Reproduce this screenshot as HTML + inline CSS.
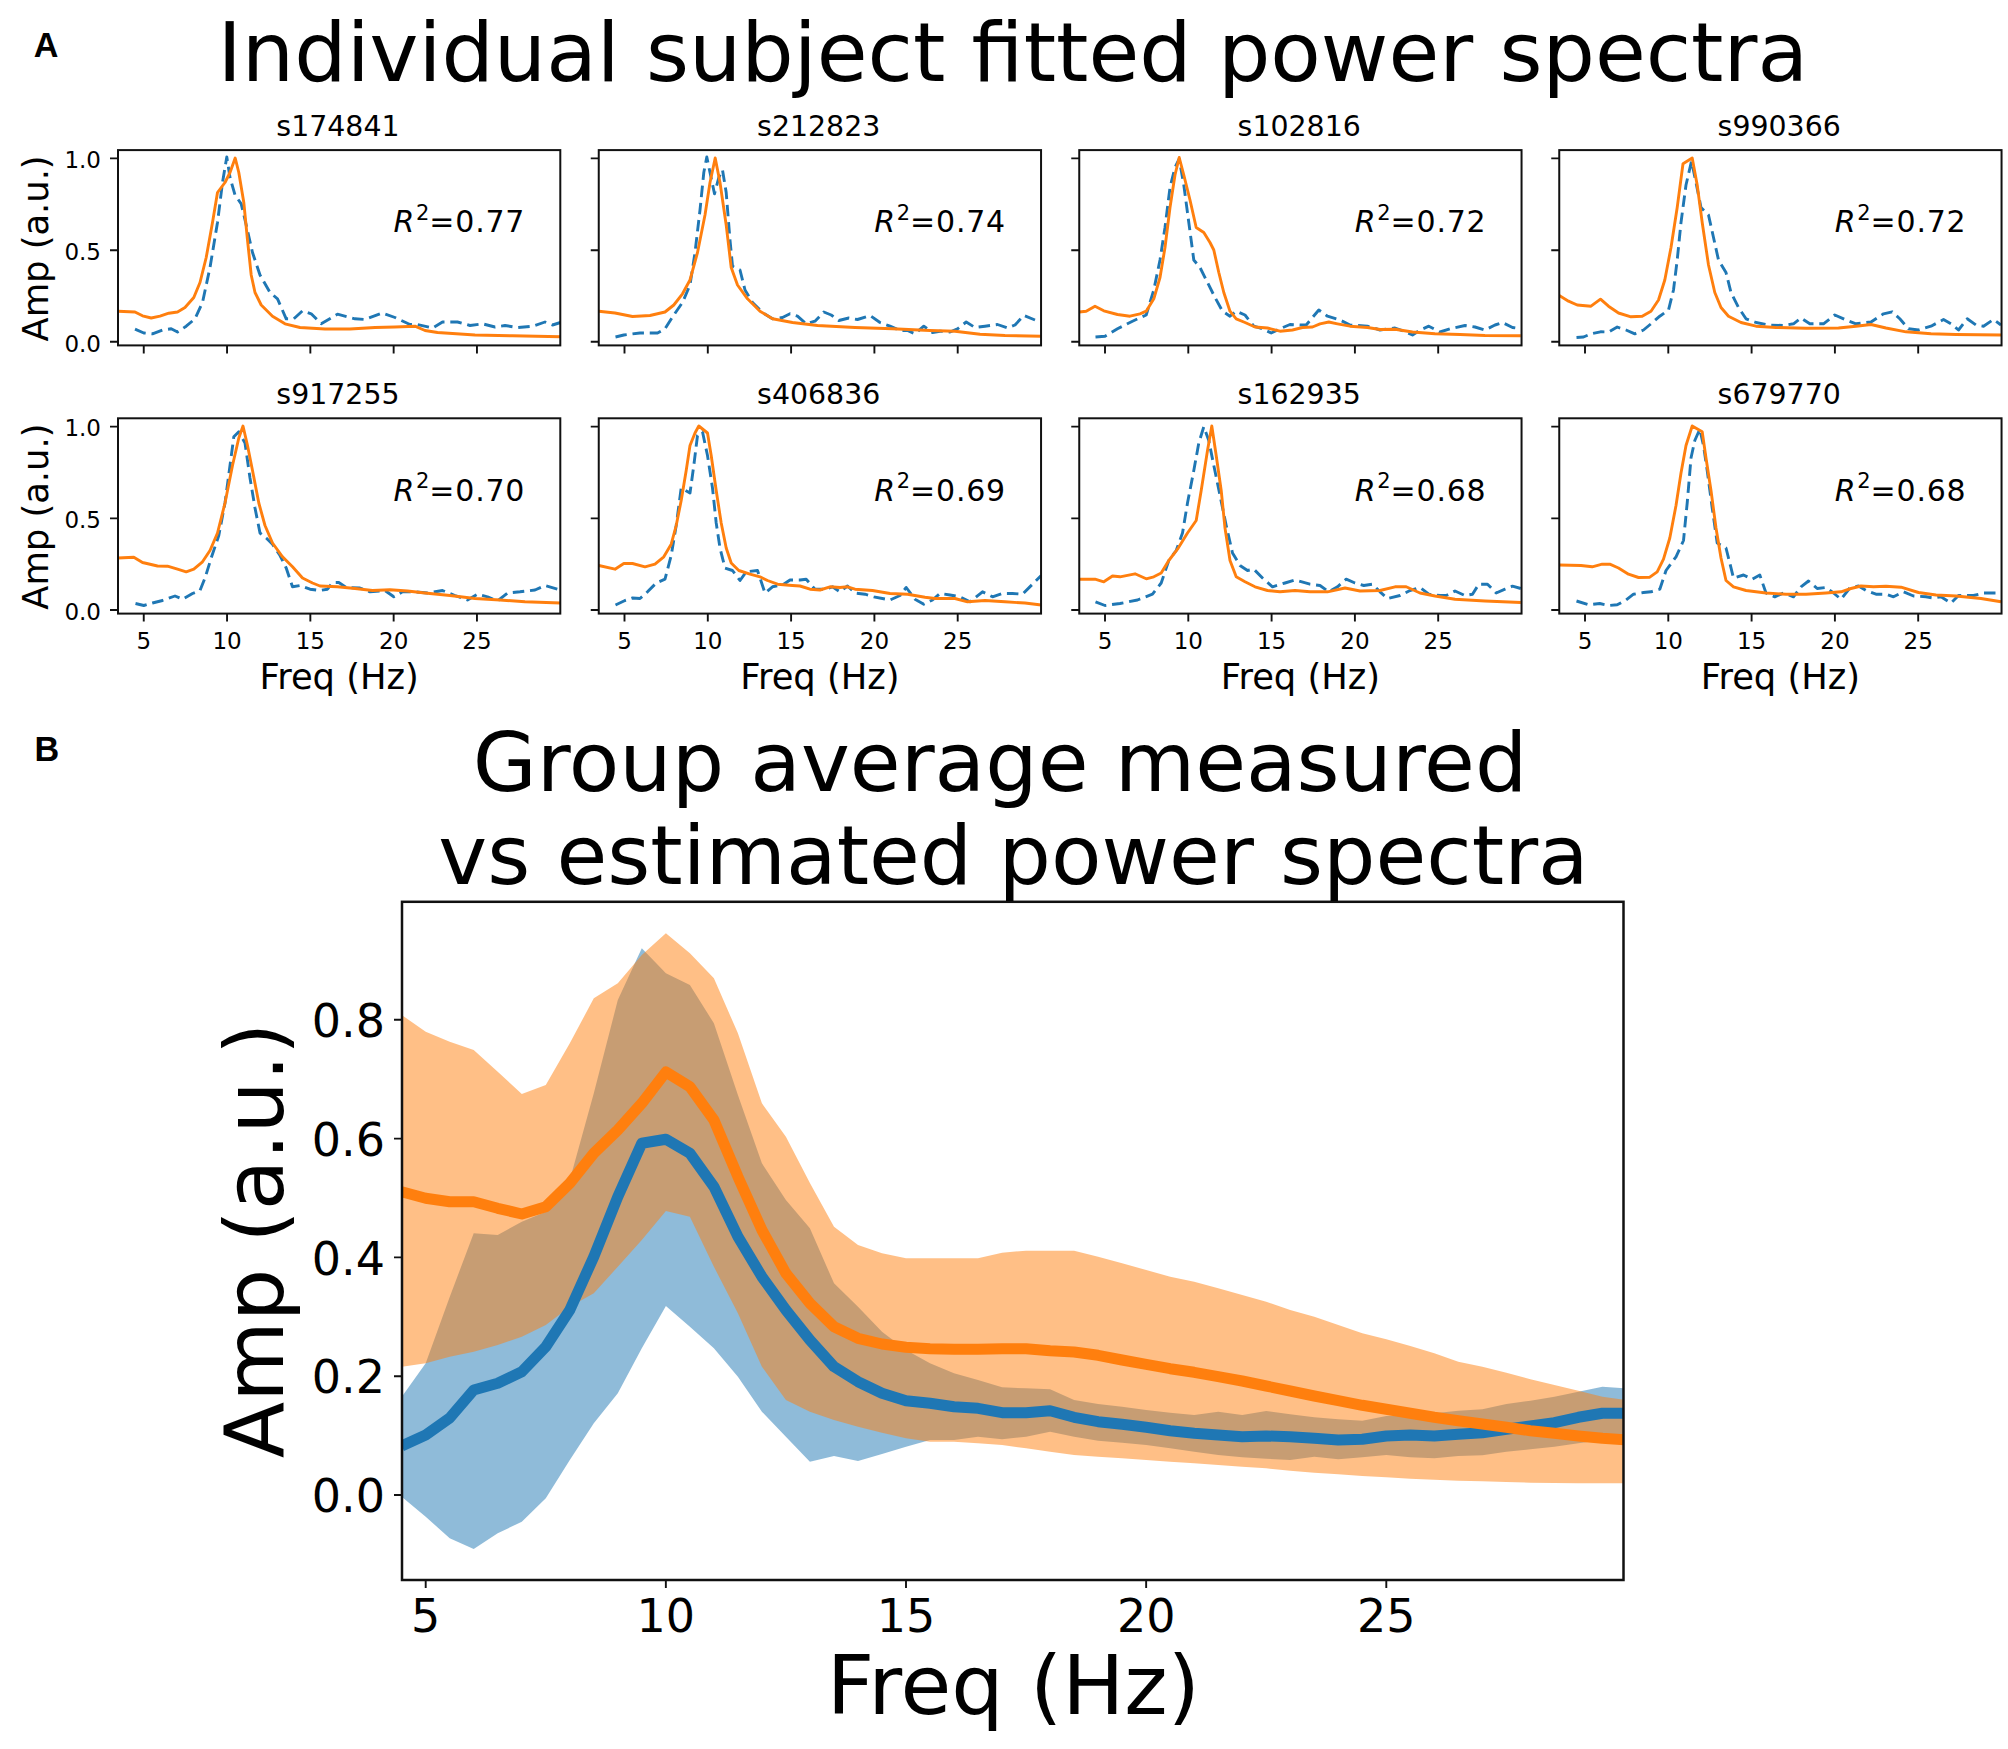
<!DOCTYPE html>
<html lang="en"><head><meta charset="utf-8"><title>Fitted power spectra</title>
<style>
html,body{margin:0;padding:0;background:#fff;}
body{width:2008px;height:1749px;overflow:hidden;}
svg{display:block;}
text{font-family:'DejaVu Sans', 'Liberation Sans', sans-serif;fill:#000000;}
.lab{font-family:"Liberation Sans",Arial,sans-serif;font-weight:bold;fill:#000;}
.it{font-family:"DejaVu Sans","Liberation Sans",sans-serif;font-style:oblique;}
.ax{fill:none;stroke:#111111;stroke-width:2.0;}
.tk{stroke:#111111;stroke-width:1.9;fill:none;}
.o{fill:none;stroke:#ff7f0e;stroke-width:2.9;stroke-linejoin:round;stroke-linecap:butt;}
.b{fill:none;stroke:#1f77b4;stroke-width:2.9;stroke-linejoin:round;stroke-dasharray:11.5 5.8;}
</style></head><body>
<svg width="2008" height="1749" viewBox="0 0 2008 1749">
<rect x="0" y="0" width="2008" height="1749" fill="#ffffff"/>
<text class="lab" x="33.8" y="57.1" font-size="34.2">A</text>
<text class="lab" x="34.6" y="761" font-size="34.2">B</text>
<text x="1012.8" y="81.3" font-size="82.6" text-anchor="middle">Individual subject fitted power spectra</text>
<g>
<clipPath id="c0"><rect x="118.00" y="150.10" width="442.30" height="195.30"/></clipPath>
<g clip-path="url(#c0)">
<polyline class="b" points="135.0,329.2 143.8,333.0 152.5,333.8 162.5,330.0 171.2,328.8 177.5,332.0 186.2,326.2 195.0,318.8 202.5,302.5 210.0,267.5 217.5,222.5 222.5,182.5 226.8,157.0 230.0,177.5 235.0,195.0 241.2,203.8 246.2,225.0 252.5,252.5 260.0,275.0 270.0,292.5 277.5,298.8 286.2,318.8 293.8,318.8 302.5,310.8 311.2,313.8 321.2,323.8 337.5,314.2 355.0,318.8 365.0,319.5 382.5,313.0 395.0,317.5 410.0,324.5 417.5,324.5 432.5,328.0 442.5,322.0 457.5,322.0 470.0,325.5 482.5,323.8 495.0,327.0 505.0,325.5 517.5,327.5 532.5,326.2 545.0,322.0 552.5,325.0 560.5,322.5"/>
<polyline class="o" points="118.0,311.2 135.0,312.0 142.5,315.8 151.2,318.0 160.0,316.2 168.8,313.2 177.5,312.0 185.0,307.5 193.8,297.5 200.0,282.5 206.2,257.5 212.5,222.5 217.5,192.5 225.0,182.5 230.0,172.5 235.2,158.0 238.8,172.5 243.8,202.5 247.5,240.0 251.2,275.0 255.0,292.5 261.2,305.0 272.5,316.2 285.0,323.8 300.0,327.5 325.0,329.0 350.0,329.0 375.0,327.5 395.0,327.0 415.0,326.2 425.0,330.5 437.5,332.5 475.0,335.0 512.5,335.8 560.5,336.8"/>
</g>
<rect class="ax" x="118.00" y="150.10" width="442.30" height="195.30"/>
<path class="tk" d="M110.00 158.40H118.00M110.00 250.20H118.00M110.00 341.80H118.00M143.75 345.40V353.40M227.05 345.40V353.40M310.35 345.40V353.40M393.65 345.40V353.40M476.95 345.40V353.40"/>
<text x="337.95" y="135.70" font-size="28.4" text-anchor="middle">s174841</text>
<text x="393.60" y="232.30" font-size="30"><tspan class="it">R</tspan><tspan dx="1.5" dy="-12.3" font-size="21">2</tspan><tspan dy="12.3" dx="0.0" letter-spacing="0.8">=0.77</tspan></text>
<text x="101.00" y="168.10" font-size="23" text-anchor="end">1.0</text>
<text x="101.00" y="259.90" font-size="23" text-anchor="end">0.5</text>
<text x="101.00" y="351.50" font-size="23" text-anchor="end">0.0</text>
<text transform="translate(48.00 248.45) rotate(-90)" font-size="35.3" text-anchor="middle">Amp (a.u.)</text>
</g>
<g>
<clipPath id="c1"><rect x="598.75" y="150.10" width="442.30" height="195.30"/></clipPath>
<g clip-path="url(#c1)">
<polyline class="b" points="615.5,337.0 623.8,335.0 640.0,333.0 657.5,333.0 665.0,328.8 673.8,315.0 682.5,302.5 690.0,285.0 695.0,252.5 700.0,210.0 703.8,172.5 706.8,157.0 710.0,172.5 714.5,193.8 718.8,177.5 722.5,170.0 726.2,192.5 730.0,240.0 732.5,266.2 740.0,270.0 745.0,290.0 752.5,302.5 762.5,312.5 772.5,318.8 782.5,317.5 790.0,313.8 797.5,316.2 806.2,323.8 815.0,321.2 823.8,312.0 831.2,315.0 838.8,320.5 848.8,318.0 857.5,319.5 870.0,315.5 880.0,322.5 890.0,326.2 900.0,330.5 907.5,330.5 915.0,333.8 923.8,326.2 932.5,332.5 940.0,331.2 950.0,332.0 957.5,328.8 966.2,322.0 975.0,327.5 985.0,326.2 997.5,324.5 1007.5,328.0 1015.0,325.0 1023.8,315.5 1035.0,320.0"/>
<polyline class="o" points="598.8,311.2 615.0,313.0 632.5,316.5 650.0,315.5 665.0,312.0 673.8,305.0 682.5,293.8 690.0,280.0 697.5,252.5 705.0,215.0 710.0,182.5 715.2,158.0 720.0,182.5 726.2,225.0 731.2,267.5 737.5,285.0 747.5,298.8 760.0,311.2 772.5,318.8 792.5,322.5 817.5,325.5 855.0,327.5 892.5,328.8 930.0,330.5 955.0,331.2 980.0,334.2 1005.0,335.5 1041.2,336.2"/>
</g>
<rect class="ax" x="598.75" y="150.10" width="442.30" height="195.30"/>
<path class="tk" d="M590.75 158.40H598.75M590.75 250.20H598.75M590.75 341.80H598.75M624.50 345.40V353.40M707.80 345.40V353.40M791.10 345.40V353.40M874.40 345.40V353.40M957.70 345.40V353.40"/>
<text x="818.70" y="135.70" font-size="28.4" text-anchor="middle">s212823</text>
<text x="874.35" y="232.30" font-size="30"><tspan class="it">R</tspan><tspan dx="1.5" dy="-12.3" font-size="21">2</tspan><tspan dy="12.3" dx="0.0" letter-spacing="0.8">=0.74</tspan></text>
</g>
<g>
<clipPath id="c2"><rect x="1079.25" y="150.10" width="442.30" height="195.30"/></clipPath>
<g clip-path="url(#c2)">
<polyline class="b" points="1095.5,337.0 1105.0,336.2 1117.5,328.8 1132.5,321.2 1146.2,315.0 1153.8,290.0 1160.0,260.0 1165.0,227.5 1170.0,187.5 1175.0,167.5 1179.2,158.8 1183.8,185.0 1188.8,222.5 1193.8,260.0 1200.0,267.5 1207.5,282.5 1215.0,297.5 1222.5,311.2 1230.0,316.2 1236.2,311.2 1245.0,315.0 1253.8,326.2 1262.5,328.8 1271.2,333.0 1280.0,328.8 1290.0,324.5 1300.0,325.0 1306.2,325.0 1318.8,310.0 1327.5,316.2 1340.0,320.0 1350.0,325.0 1367.5,326.2 1380.0,330.0 1395.0,328.0 1403.8,331.2 1412.5,335.0 1420.0,330.0 1428.8,326.2 1440.0,332.0 1450.0,328.8 1465.0,325.5 1475.0,327.0 1485.0,330.0 1495.0,325.0 1502.5,322.5 1512.5,327.5 1520.8,328.8"/>
<polyline class="o" points="1079.2,312.0 1086.2,311.2 1095.0,306.2 1103.8,310.8 1117.5,314.5 1130.0,316.2 1140.0,313.8 1146.2,311.2 1153.8,298.8 1160.0,277.5 1165.0,247.5 1170.0,207.5 1175.0,175.0 1179.2,157.5 1183.8,175.0 1190.0,200.0 1196.2,227.5 1203.8,232.5 1210.0,242.5 1213.8,250.0 1218.8,272.5 1223.8,292.5 1230.0,311.2 1236.2,318.8 1245.0,322.5 1255.0,327.0 1267.5,328.0 1280.0,331.2 1292.5,330.0 1302.5,327.5 1312.5,327.0 1320.0,323.8 1328.8,322.0 1337.5,323.8 1350.0,326.2 1367.5,327.5 1380.0,329.5 1395.0,329.2 1412.5,332.0 1435.0,333.8 1460.0,334.5 1485.0,335.5 1520.8,335.8"/>
</g>
<rect class="ax" x="1079.25" y="150.10" width="442.30" height="195.30"/>
<path class="tk" d="M1071.25 158.40H1079.25M1071.25 250.20H1079.25M1071.25 341.80H1079.25M1105.00 345.40V353.40M1188.30 345.40V353.40M1271.60 345.40V353.40M1354.90 345.40V353.40M1438.20 345.40V353.40"/>
<text x="1299.20" y="135.70" font-size="28.4" text-anchor="middle">s102816</text>
<text x="1354.85" y="232.30" font-size="30"><tspan class="it">R</tspan><tspan dx="1.5" dy="-12.3" font-size="21">2</tspan><tspan dy="12.3" dx="0.0" letter-spacing="0.8">=0.72</tspan></text>
</g>
<g>
<clipPath id="c3"><rect x="1559.25" y="150.10" width="442.30" height="195.30"/></clipPath>
<g clip-path="url(#c3)">
<polyline class="b" points="1576.5,337.5 1583.5,337.0 1591.0,333.8 1600.5,331.8 1608.5,332.0 1617.2,327.0 1626.0,330.0 1634.8,333.8 1643.5,330.0 1651.0,323.8 1659.8,316.2 1668.5,310.0 1673.5,290.0 1677.2,260.0 1681.0,222.5 1686.0,185.0 1691.5,161.2 1696.0,182.5 1701.0,207.5 1708.5,215.0 1713.5,237.5 1718.5,260.0 1726.0,272.5 1731.0,292.5 1738.5,307.5 1746.0,318.8 1756.0,322.5 1768.5,325.0 1783.5,325.5 1793.5,323.8 1801.0,318.0 1809.8,323.8 1823.5,323.8 1834.8,315.0 1846.0,320.0 1856.0,323.8 1871.0,322.0 1883.5,313.8 1892.2,311.8 1899.8,318.8 1908.5,328.8 1918.5,330.0 1931.0,326.2 1943.5,319.5 1951.0,323.8 1958.5,330.0 1967.2,318.8 1976.0,325.0 1983.5,326.2 1993.5,319.5 2001.0,325.0"/>
<polyline class="o" points="1559.2,295.5 1568.5,301.2 1577.2,305.0 1591.0,306.2 1600.5,299.2 1608.5,306.2 1618.5,313.0 1631.0,316.8 1642.2,316.2 1651.0,311.2 1658.5,300.0 1664.8,280.0 1671.0,247.5 1677.2,207.5 1683.0,163.8 1692.2,158.0 1697.2,185.0 1702.2,222.5 1708.5,265.0 1714.8,292.5 1721.0,307.5 1728.5,316.2 1741.0,322.5 1756.0,326.2 1776.0,327.5 1806.0,328.2 1838.5,328.0 1856.0,326.2 1871.0,324.5 1886.0,328.0 1906.0,331.8 1931.0,333.8 1956.0,334.5 2001.0,335.0"/>
</g>
<rect class="ax" x="1559.25" y="150.10" width="442.30" height="195.30"/>
<path class="tk" d="M1551.25 158.40H1559.25M1551.25 250.20H1559.25M1551.25 341.80H1559.25M1585.00 345.40V353.40M1668.30 345.40V353.40M1751.60 345.40V353.40M1834.90 345.40V353.40M1918.20 345.40V353.40"/>
<text x="1779.20" y="135.70" font-size="28.4" text-anchor="middle">s990366</text>
<text x="1834.85" y="232.30" font-size="30"><tspan class="it">R</tspan><tspan dx="1.5" dy="-12.3" font-size="21">2</tspan><tspan dy="12.3" dx="0.0" letter-spacing="0.8">=0.72</tspan></text>
</g>
<g>
<clipPath id="c4"><rect x="118.00" y="418.30" width="442.30" height="195.30"/></clipPath>
<g clip-path="url(#c4)">
<polyline class="b" points="135.5,603.5 143.8,605.5 152.5,603.0 162.5,600.5 175.0,596.0 182.5,599.2 192.5,593.5 200.0,590.5 205.0,578.0 211.2,558.0 218.8,535.5 225.0,503.0 230.0,465.5 233.8,436.8 238.8,431.8 245.0,443.0 250.0,478.0 255.0,508.0 260.0,533.0 266.2,538.0 272.5,544.2 280.0,555.5 286.2,568.0 292.5,586.8 300.0,585.5 310.0,589.2 320.0,590.5 327.5,589.2 332.5,582.5 338.8,582.5 346.2,587.5 360.0,588.0 370.0,591.8 385.0,590.5 393.8,596.8 402.5,591.8 415.0,591.8 427.5,593.0 442.5,590.5 455.0,595.5 467.5,600.0 477.5,594.2 487.5,596.8 497.5,601.0 507.5,593.0 520.0,591.8 535.0,590.0 545.0,585.5 560.5,590.0"/>
<polyline class="o" points="118.0,558.0 133.8,557.2 142.5,562.5 157.5,566.0 167.5,566.2 177.5,569.2 186.2,571.8 193.8,569.2 202.5,561.8 210.0,550.5 217.5,533.0 225.0,503.0 232.5,465.5 238.8,438.0 243.0,426.0 247.5,445.5 252.5,470.5 258.8,503.0 265.0,525.5 272.5,543.0 282.5,556.8 292.5,566.8 302.5,578.0 312.5,583.0 320.0,586.0 337.5,586.8 355.0,588.5 372.5,590.5 390.0,589.8 407.5,591.0 425.0,593.0 450.0,595.5 475.0,598.5 500.0,600.0 525.0,601.8 560.5,603.0"/>
</g>
<rect class="ax" x="118.00" y="418.30" width="442.30" height="195.30"/>
<path class="tk" d="M110.00 426.60H118.00M110.00 518.40H118.00M110.00 610.00H118.00M143.75 613.60V621.60M227.05 613.60V621.60M310.35 613.60V621.60M393.65 613.60V621.60M476.95 613.60V621.60"/>
<text x="337.95" y="403.90" font-size="28.4" text-anchor="middle">s917255</text>
<text x="393.60" y="500.50" font-size="30"><tspan class="it">R</tspan><tspan dx="1.5" dy="-12.3" font-size="21">2</tspan><tspan dy="12.3" dx="0.0" letter-spacing="0.8">=0.70</tspan></text>
<text x="101.00" y="436.30" font-size="23" text-anchor="end">1.0</text>
<text x="101.00" y="528.10" font-size="23" text-anchor="end">0.5</text>
<text x="101.00" y="619.70" font-size="23" text-anchor="end">0.0</text>
<text transform="translate(48.00 516.65) rotate(-90)" font-size="35.3" text-anchor="middle">Amp (a.u.)</text>
<text x="143.75" y="648.70" font-size="23" text-anchor="middle">5</text>
<text x="227.05" y="648.70" font-size="23" text-anchor="middle">10</text>
<text x="310.35" y="648.70" font-size="23" text-anchor="middle">15</text>
<text x="393.65" y="648.70" font-size="23" text-anchor="middle">20</text>
<text x="476.95" y="648.70" font-size="23" text-anchor="middle">25</text>
<text x="339.15" y="689.20" font-size="35.3" text-anchor="middle">Freq (Hz)</text>
</g>
<g>
<clipPath id="c5"><rect x="598.75" y="418.30" width="442.30" height="195.30"/></clipPath>
<g clip-path="url(#c5)">
<polyline class="b" points="615.5,605.0 625.0,600.5 632.5,598.0 640.0,598.5 647.5,591.8 656.2,583.0 665.0,579.2 671.2,555.5 676.2,525.5 681.2,488.0 690.0,493.0 693.8,465.5 697.5,435.5 702.5,431.8 707.5,455.5 712.5,488.0 716.2,523.0 720.0,548.0 725.0,568.0 732.5,570.5 740.0,580.5 746.2,571.8 757.5,570.5 765.0,593.0 772.5,586.8 782.5,585.0 790.0,580.0 800.0,580.0 806.2,579.2 815.0,589.2 825.0,589.2 832.5,586.8 840.0,591.8 847.5,586.0 855.0,593.0 865.0,594.2 873.8,596.8 890.0,600.0 900.0,595.5 906.2,587.5 915.0,599.2 923.8,604.2 932.5,600.0 940.0,593.5 950.0,595.0 960.0,596.8 970.0,601.8 982.5,591.8 992.5,596.8 1002.5,593.5 1012.5,593.5 1022.5,594.2 1032.5,584.2 1041.2,575.5"/>
<polyline class="o" points="598.8,565.5 615.0,569.2 623.8,563.5 632.5,563.5 645.0,566.8 655.0,564.2 663.8,556.8 671.2,544.2 676.2,525.5 681.2,500.5 686.2,470.5 690.0,445.5 695.0,433.0 698.8,426.0 707.5,433.0 711.2,455.5 716.2,490.5 721.2,523.0 726.2,548.0 731.2,563.0 738.8,570.5 750.0,574.2 760.0,576.8 767.5,580.5 777.5,584.2 792.5,585.5 800.0,586.0 810.0,589.2 820.0,590.0 830.0,586.8 840.0,587.5 847.5,586.8 855.0,589.2 872.5,590.5 890.0,593.5 907.5,594.2 925.0,597.2 935.0,598.5 955.0,598.5 967.5,601.8 985.0,600.5 1005.0,601.8 1025.0,603.0 1041.2,605.0"/>
</g>
<rect class="ax" x="598.75" y="418.30" width="442.30" height="195.30"/>
<path class="tk" d="M590.75 426.60H598.75M590.75 518.40H598.75M590.75 610.00H598.75M624.50 613.60V621.60M707.80 613.60V621.60M791.10 613.60V621.60M874.40 613.60V621.60M957.70 613.60V621.60"/>
<text x="818.70" y="403.90" font-size="28.4" text-anchor="middle">s406836</text>
<text x="874.35" y="500.50" font-size="30"><tspan class="it">R</tspan><tspan dx="1.5" dy="-12.3" font-size="21">2</tspan><tspan dy="12.3" dx="0.0" letter-spacing="0.8">=0.69</tspan></text>
<text x="624.50" y="648.70" font-size="23" text-anchor="middle">5</text>
<text x="707.80" y="648.70" font-size="23" text-anchor="middle">10</text>
<text x="791.10" y="648.70" font-size="23" text-anchor="middle">15</text>
<text x="874.40" y="648.70" font-size="23" text-anchor="middle">20</text>
<text x="957.70" y="648.70" font-size="23" text-anchor="middle">25</text>
<text x="819.90" y="689.20" font-size="35.3" text-anchor="middle">Freq (Hz)</text>
</g>
<g>
<clipPath id="c6"><rect x="1079.25" y="418.30" width="442.30" height="195.30"/></clipPath>
<g clip-path="url(#c6)">
<polyline class="b" points="1095.5,601.8 1105.0,605.5 1120.0,603.5 1137.5,600.0 1152.5,594.2 1161.2,583.0 1168.8,560.5 1176.2,550.5 1182.5,533.0 1187.5,503.0 1193.8,470.5 1198.8,443.0 1203.8,426.8 1208.8,440.5 1213.8,465.5 1220.0,495.5 1226.2,525.5 1232.5,553.0 1240.0,565.5 1247.5,570.5 1253.8,569.2 1262.5,578.0 1272.5,586.8 1285.0,583.0 1295.0,580.0 1310.0,584.2 1320.0,585.5 1328.8,591.8 1337.5,586.8 1346.2,579.2 1355.0,583.0 1363.8,585.5 1372.5,584.2 1380.0,591.8 1387.5,598.5 1400.0,595.5 1410.0,590.5 1420.0,587.5 1428.8,594.2 1440.0,595.5 1446.2,595.5 1455.0,591.0 1465.0,595.5 1472.5,594.2 1478.8,584.2 1487.5,584.2 1496.2,593.0 1505.0,589.2 1512.5,586.2 1520.8,588.5"/>
<polyline class="o" points="1079.2,579.2 1095.0,579.2 1103.8,581.8 1112.5,576.0 1120.0,576.8 1135.0,573.8 1146.2,578.8 1153.8,576.8 1161.2,573.0 1168.8,560.5 1177.5,549.2 1187.5,533.0 1196.2,520.5 1201.2,490.5 1207.5,450.5 1211.8,426.0 1216.2,455.5 1221.2,490.5 1225.0,528.0 1230.0,560.5 1236.2,576.8 1245.0,581.8 1255.0,586.8 1267.5,590.5 1280.0,591.8 1295.0,590.5 1310.0,591.8 1327.5,591.8 1345.0,588.0 1360.0,591.0 1380.0,590.5 1395.0,586.8 1406.2,586.8 1420.0,593.0 1435.0,596.0 1455.0,599.2 1485.0,601.0 1520.8,602.5"/>
</g>
<rect class="ax" x="1079.25" y="418.30" width="442.30" height="195.30"/>
<path class="tk" d="M1071.25 426.60H1079.25M1071.25 518.40H1079.25M1071.25 610.00H1079.25M1105.00 613.60V621.60M1188.30 613.60V621.60M1271.60 613.60V621.60M1354.90 613.60V621.60M1438.20 613.60V621.60"/>
<text x="1299.20" y="403.90" font-size="28.4" text-anchor="middle">s162935</text>
<text x="1354.85" y="500.50" font-size="30"><tspan class="it">R</tspan><tspan dx="1.5" dy="-12.3" font-size="21">2</tspan><tspan dy="12.3" dx="0.0" letter-spacing="0.8">=0.68</tspan></text>
<text x="1105.00" y="648.70" font-size="23" text-anchor="middle">5</text>
<text x="1188.30" y="648.70" font-size="23" text-anchor="middle">10</text>
<text x="1271.60" y="648.70" font-size="23" text-anchor="middle">15</text>
<text x="1354.90" y="648.70" font-size="23" text-anchor="middle">20</text>
<text x="1438.20" y="648.70" font-size="23" text-anchor="middle">25</text>
<text x="1300.40" y="689.20" font-size="35.3" text-anchor="middle">Freq (Hz)</text>
</g>
<g>
<clipPath id="c7"><rect x="1559.25" y="418.30" width="442.30" height="195.30"/></clipPath>
<g clip-path="url(#c7)">
<polyline class="b" points="1576.5,601.0 1588.5,604.8 1599.8,603.5 1608.5,605.5 1617.2,604.8 1626.0,600.0 1633.5,594.2 1643.5,592.5 1651.0,591.8 1659.8,589.2 1666.0,570.5 1676.0,556.8 1683.5,540.5 1687.2,503.0 1691.0,458.0 1694.8,440.5 1699.8,429.2 1703.5,445.5 1707.2,470.5 1712.2,508.0 1717.2,543.0 1726.0,548.0 1729.8,563.0 1733.5,578.0 1743.5,575.0 1752.2,579.2 1759.8,575.0 1766.0,593.0 1774.8,596.8 1783.5,593.0 1793.5,596.8 1801.0,586.8 1808.5,581.0 1817.2,588.5 1826.0,587.5 1833.5,593.0 1841.0,599.2 1849.8,588.0 1858.5,586.0 1866.0,590.5 1876.0,594.2 1886.0,594.2 1893.5,596.8 1903.5,591.8 1913.5,596.0 1926.0,596.8 1933.5,598.0 1941.0,596.8 1951.0,603.0 1958.5,595.5 1973.5,595.5 1983.5,593.0 2001.0,593.0"/>
<polyline class="o" points="1559.2,565.0 1581.0,565.5 1592.2,566.8 1602.2,564.2 1609.8,564.2 1618.5,568.0 1628.5,574.2 1638.5,577.5 1649.8,577.2 1657.2,571.8 1663.5,559.2 1669.8,538.0 1676.0,505.5 1681.0,473.0 1686.0,445.5 1692.2,426.0 1702.2,431.8 1706.0,458.0 1711.0,490.5 1716.0,528.0 1721.0,558.0 1726.0,580.5 1733.5,586.8 1746.0,590.5 1766.0,593.0 1786.0,594.2 1806.0,594.2 1826.0,593.0 1841.0,591.8 1851.0,588.5 1861.0,586.0 1873.5,586.8 1886.0,586.2 1901.0,587.2 1918.5,592.5 1936.0,595.0 1956.0,596.0 1981.0,598.5 2001.0,601.8"/>
</g>
<rect class="ax" x="1559.25" y="418.30" width="442.30" height="195.30"/>
<path class="tk" d="M1551.25 426.60H1559.25M1551.25 518.40H1559.25M1551.25 610.00H1559.25M1585.00 613.60V621.60M1668.30 613.60V621.60M1751.60 613.60V621.60M1834.90 613.60V621.60M1918.20 613.60V621.60"/>
<text x="1779.20" y="403.90" font-size="28.4" text-anchor="middle">s679770</text>
<text x="1834.85" y="500.50" font-size="30"><tspan class="it">R</tspan><tspan dx="1.5" dy="-12.3" font-size="21">2</tspan><tspan dy="12.3" dx="0.0" letter-spacing="0.8">=0.68</tspan></text>
<text x="1585.00" y="648.70" font-size="23" text-anchor="middle">5</text>
<text x="1668.30" y="648.70" font-size="23" text-anchor="middle">10</text>
<text x="1751.60" y="648.70" font-size="23" text-anchor="middle">15</text>
<text x="1834.90" y="648.70" font-size="23" text-anchor="middle">20</text>
<text x="1918.20" y="648.70" font-size="23" text-anchor="middle">25</text>
<text x="1780.40" y="689.20" font-size="35.3" text-anchor="middle">Freq (Hz)</text>
</g>
<g>
<clipPath id="cm"><rect x="402.00" y="901.80" width="1221.50" height="678.20"/></clipPath>
<g clip-path="url(#cm)">
<polygon points="401.7,1397.0 425.7,1363.3 449.7,1297.0 473.7,1233.3 497.7,1235.0 521.8,1221.7 545.8,1211.7 569.8,1180.0 593.8,1093.3 617.8,1000.0 641.8,948.3 665.9,973.3 689.9,985.0 713.9,1023.3 737.9,1095.0 761.9,1163.3 785.9,1200.0 809.9,1228.3 834.0,1283.3 858.0,1306.7 882.0,1331.7 906.0,1350.0 930.0,1363.3 954.0,1373.3 978.0,1380.0 1002.1,1387.3 1026.1,1388.3 1050.1,1389.3 1074.1,1400.0 1098.1,1404.0 1122.1,1406.7 1146.2,1410.0 1170.2,1412.7 1194.2,1415.0 1218.2,1411.7 1242.2,1415.0 1266.2,1411.0 1290.2,1414.3 1314.3,1417.3 1338.3,1419.3 1362.3,1420.7 1386.3,1416.0 1410.3,1415.0 1434.3,1413.3 1458.3,1410.7 1482.4,1409.3 1506.4,1404.0 1530.4,1400.7 1554.4,1396.7 1578.4,1391.7 1602.4,1386.7 1626.5,1388.3 1626.5,1438.3 1602.4,1440.0 1578.4,1443.3 1554.4,1446.7 1530.4,1449.3 1506.4,1451.7 1482.4,1455.3 1458.3,1456.0 1434.3,1458.3 1410.3,1457.3 1386.3,1455.0 1362.3,1457.3 1338.3,1459.3 1314.3,1456.7 1290.2,1460.0 1266.2,1458.7 1242.2,1457.3 1218.2,1455.0 1194.2,1451.7 1170.2,1448.3 1146.2,1445.0 1122.1,1442.7 1098.1,1440.7 1074.1,1436.7 1050.1,1431.7 1026.1,1436.7 1002.1,1439.3 978.0,1436.7 954.0,1440.0 930.0,1440.0 906.0,1446.7 882.0,1454.0 858.0,1461.0 834.0,1456.0 809.9,1461.7 785.9,1436.7 761.9,1411.7 737.9,1376.7 713.9,1348.3 689.9,1326.7 665.9,1306.0 641.8,1348.3 617.8,1393.3 593.8,1423.3 569.8,1460.0 545.8,1498.3 521.8,1521.7 497.7,1533.3 473.7,1549.0 449.7,1538.3 425.7,1516.7 401.7,1496.7" fill="#1f77b4" fill-opacity="0.5"/>
<polygon points="401.7,1015.0 425.7,1031.7 449.7,1041.7 473.7,1050.0 497.7,1071.7 521.8,1094.0 545.8,1085.0 569.8,1043.3 593.8,998.3 617.8,983.3 641.8,955.0 665.9,933.3 689.9,953.3 713.9,978.3 737.9,1033.3 761.9,1103.3 785.9,1136.7 809.9,1183.0 834.0,1226.7 858.0,1245.0 882.0,1253.3 906.0,1258.3 930.0,1258.3 954.0,1258.3 978.0,1258.3 1002.1,1252.7 1026.1,1250.7 1050.1,1250.7 1074.1,1250.7 1098.1,1256.7 1122.1,1263.3 1146.2,1270.0 1170.2,1276.7 1194.2,1281.7 1218.2,1288.3 1242.2,1295.0 1266.2,1301.7 1290.2,1310.0 1314.3,1316.7 1338.3,1325.0 1362.3,1333.3 1386.3,1339.3 1410.3,1346.0 1434.3,1353.3 1458.3,1361.7 1482.4,1366.7 1506.4,1372.7 1530.4,1379.3 1554.4,1385.0 1578.4,1390.7 1602.4,1396.7 1626.5,1400.0 1626.5,1483.3 1602.4,1483.3 1578.4,1483.3 1554.4,1483.0 1530.4,1482.7 1506.4,1482.0 1482.4,1481.3 1458.3,1480.7 1434.3,1479.7 1410.3,1478.7 1386.3,1477.3 1362.3,1476.0 1338.3,1474.3 1314.3,1472.7 1290.2,1470.7 1266.2,1468.3 1242.2,1466.7 1218.2,1465.0 1194.2,1463.3 1170.2,1461.7 1146.2,1460.0 1122.1,1458.3 1098.1,1456.7 1074.1,1455.0 1050.1,1451.7 1026.1,1448.3 1002.1,1445.0 978.0,1443.3 954.0,1441.7 930.0,1441.7 906.0,1438.3 882.0,1432.7 858.0,1426.7 834.0,1420.0 809.9,1411.7 785.9,1400.0 761.9,1366.7 737.9,1313.3 713.9,1266.7 689.9,1216.7 665.9,1211.0 641.8,1240.0 617.8,1266.7 593.8,1293.3 569.8,1306.7 545.8,1325.0 521.8,1336.7 497.7,1345.0 473.7,1351.7 449.7,1356.7 425.7,1363.3 401.7,1366.7" fill="#ff7f0e" fill-opacity="0.5"/>
<polyline points="401.7,1446.0 425.7,1435.0 449.7,1418.0 473.7,1390.0 497.7,1383.3 521.8,1371.7 545.8,1346.7 569.8,1310.0 593.8,1256.7 617.8,1196.7 641.8,1143.3 665.9,1139.3 689.9,1153.3 713.9,1186.7 737.9,1236.7 761.9,1276.7 785.9,1310.0 809.9,1340.0 834.0,1366.7 858.0,1381.7 882.0,1393.3 906.0,1400.7 930.0,1403.3 954.0,1406.7 978.0,1408.3 1002.1,1412.7 1026.1,1412.7 1050.1,1410.7 1074.1,1417.3 1098.1,1421.7 1122.1,1424.3 1146.2,1427.3 1170.2,1430.7 1194.2,1433.3 1218.2,1435.0 1242.2,1436.7 1266.2,1436.0 1290.2,1436.7 1314.3,1438.3 1338.3,1440.0 1362.3,1439.3 1386.3,1436.0 1410.3,1435.0 1434.3,1436.0 1458.3,1434.3 1482.4,1432.7 1506.4,1429.3 1530.4,1426.0 1554.4,1422.7 1578.4,1417.3 1602.4,1413.3 1626.5,1413.3" fill="none" stroke="#1f77b4" stroke-width="11.0" stroke-linejoin="round"/>
<polyline points="401.7,1191.7 425.7,1198.3 449.7,1201.7 473.7,1201.7 497.7,1208.3 521.8,1214.0 545.8,1206.7 569.8,1183.3 593.8,1153.3 617.8,1130.0 641.8,1103.3 665.9,1072.0 689.9,1086.7 713.9,1120.0 737.9,1176.7 761.9,1230.0 785.9,1273.3 809.9,1303.3 834.0,1326.7 858.0,1338.3 882.0,1344.0 906.0,1347.3 930.0,1348.7 954.0,1349.3 978.0,1349.3 1002.1,1348.7 1026.1,1348.7 1050.1,1350.7 1074.1,1352.0 1098.1,1355.3 1122.1,1360.0 1146.2,1364.3 1170.2,1368.7 1194.2,1372.3 1218.2,1376.7 1242.2,1381.0 1266.2,1386.0 1290.2,1391.0 1314.3,1396.0 1338.3,1400.7 1362.3,1405.3 1386.3,1409.3 1410.3,1413.3 1434.3,1417.3 1458.3,1420.7 1482.4,1424.0 1506.4,1427.3 1530.4,1430.7 1554.4,1433.3 1578.4,1436.0 1602.4,1438.3 1626.5,1440.0" fill="none" stroke="#ff7f0e" stroke-width="11.0" stroke-linejoin="round"/>
</g>
<rect class="ax" style="stroke-width:2.5" x="402.00" y="901.80" width="1221.50" height="678.20"/>
<path class="tk" d="M394.00 1495.00H402.00M394.00 1376.20H402.00M394.00 1257.40H402.00M394.00 1138.60H402.00M394.00 1019.80H402.00M425.70 1580.00V1588.00M665.85 1580.00V1588.00M906.00 1580.00V1588.00M1146.15 1580.00V1588.00M1386.30 1580.00V1588.00"/>
<text x="385.00" y="1512.20" font-size="46" text-anchor="end">0.0</text>
<text x="385.00" y="1393.40" font-size="46" text-anchor="end">0.2</text>
<text x="385.00" y="1274.60" font-size="46" text-anchor="end">0.4</text>
<text x="385.00" y="1155.80" font-size="46" text-anchor="end">0.6</text>
<text x="385.00" y="1037.00" font-size="46" text-anchor="end">0.8</text>
<text x="425.70" y="1631.80" font-size="46" text-anchor="middle">5</text>
<text x="665.85" y="1631.80" font-size="46" text-anchor="middle">10</text>
<text x="906.00" y="1631.80" font-size="46" text-anchor="middle">15</text>
<text x="1146.15" y="1631.80" font-size="46" text-anchor="middle">20</text>
<text x="1386.30" y="1631.80" font-size="46" text-anchor="middle">25</text>
<text transform="translate(282.90 1240.40) rotate(-90)" font-size="82.6" text-anchor="middle">Amp (a.u.)</text>
<text x="1013.35" y="1714.30" font-size="82.6" text-anchor="middle">Freq (Hz)</text>
<text x="1000.00" y="791.00" font-size="82.6" text-anchor="middle">Group average measured</text>
<text x="1013.50" y="883.50" font-size="82.6" text-anchor="middle">vs estimated power spectra</text>
</g>
</svg></body></html>
